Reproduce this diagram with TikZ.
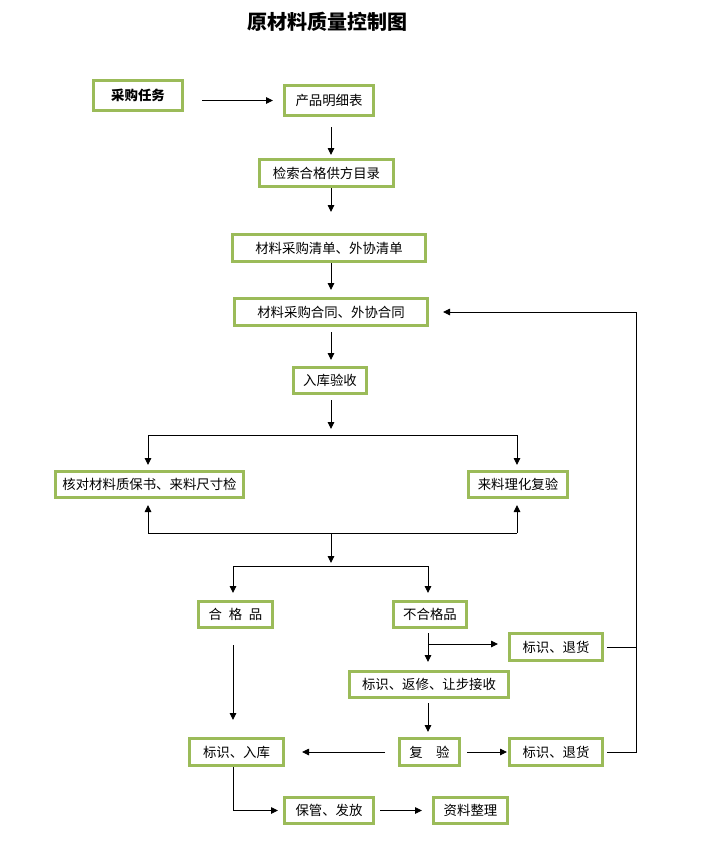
\documentclass[tikz,border=0pt]{standalone}
\usepackage{fontspec}
\setmainfont{Noto Sans CJK SC}
\usetikzlibrary{arrows.meta}
\definecolor{boxgreen}{HTML}{9BBB59}
\begin{document}
\begin{tikzpicture}[x=1pt,y=-1pt,
  gbox/.style={draw=boxgreen,line width=2.6pt,fill=white,inner sep=0pt,
    font=\fontsize{13.4}{16}\selectfont},
  arrw/.style={line width=0.9pt,-{Triangle[length=7pt,width=6.5pt]}},
  plain/.style={line width=0.9pt}]
\useasboundingbox[fill=white] (0,0) rectangle (716,862);

\node[font=\fontsize{20}{24}\selectfont\bfseries] (title) at (327.5,22) {原材料质量控制图};

\node[gbox,minimum width=89.4pt,minimum height=30.4pt,font=\fontsize{13.4}{16}\selectfont\bfseries] (cgrw) at (138,95.5) {采购任务};
\node[gbox,minimum width=89.4pt,minimum height=30.4pt] (cpmx) at (329,100.5) {产品明细表};
\node[gbox,minimum width=134.4pt,minimum height=27.4pt] (jsml) at (326.5,173) {检索合格供方目录};
\node[gbox,minimum width=193.4pt,minimum height=27.4pt] (qd) at (329,248) {材料采购清单、外协清单};
\node[gbox,minimum width=193.4pt,minimum height=27.4pt] (ht) at (331,312) {材料采购合同、外协合同};
\node[gbox,minimum width=73.4pt,minimum height=26.4pt] (rkys) at (330,380.5) {入库验收};
\node[gbox,minimum width=188.4pt,minimum height=26.4pt] (hd) at (149.5,484.5) {核对材料质保书、来料尺寸检};
\node[gbox,minimum width=99.4pt,minimum height=26.4pt] (llfy) at (518,484.5) {来料理化复验};
\node[gbox,minimum width=74.4pt,minimum height=26.4pt] (hgp) at (235.5,614.5) {合\hspace{0.5em}格\hspace{0.5em}品};
\node[gbox,minimum width=73.4pt,minimum height=26.4pt] (bhgp) at (430,614.5) {不合格品};
\node[gbox,minimum width=93.4pt,minimum height=27.4pt] (bstop) at (556,647) {标识、退货};
\node[gbox,minimum width=159.4pt,minimum height=26.4pt] (fx) at (429,684.5) {标识、返修、让步接收};
\node[gbox,minimum width=94.4pt,minimum height=27.4pt] (bsrk) at (236.5,752) {标识、入库};
\node[gbox,minimum width=60.4pt,minimum height=27.4pt] (fy) at (429.5,752) {复\hspace{1em}验};
\node[gbox,minimum width=93.4pt,minimum height=27.4pt] (bsbot) at (556,752) {标识、退货};
\node[gbox,minimum width=89.4pt,minimum height=26.4pt] (bgff) at (329,810.5) {保管、发放};
\node[gbox,minimum width=74.4pt,minimum height=26.4pt] (zlzl) at (470.5,810.5) {资料整理};

\coordinate (ax) at (331,0);
\coordinate (hx) at (148,0);
\coordinate (lx) at (517,0);
\coordinate (gx) at (233,0);
\coordinate (nx) at (428,0);
\coordinate (fb) at (636,0);
\coordinate (b1) at (331,435);
\coordinate (b2) at (331,533);
\coordinate (b3) at (331,566);
\coordinate (b4) at (428,644);

\draw[arrw,shorten <=18pt,shorten >=10pt] (cgrw.east |- cpmx.west) -- (cpmx.west);
\draw[arrw,shorten <=10pt,shorten >=3pt] (cpmx.south -| ax) -- (jsml.north -| ax);
\draw[arrw,shorten >=21pt] (jsml.south -| ax) -- (qd.north -| ax);
\draw[arrw,shorten >=7pt] (qd.south -| ax) -- (ht.north -| ax);
\draw[arrw,shorten <=5pt,shorten >=6pt] (ht.south -| ax) -- (rkys.north -| ax);
\draw[arrw,shorten <=5pt,shorten >=6pt] (rkys.south -| ax) -- (b1);

\draw[plain] (hx |- b1) -- (lx |- b1);
\draw[arrw,shorten >=5pt] (hx |- b1) -- (hx |- hd.north);
\draw[arrw,shorten >=5pt] (lx |- b1) -- (lx |- llfy.north);
\draw[plain] (hx |- b2) -- (lx |- b2);
\draw[arrw,shorten >=6pt] (hx |- b2) -- (hx |- hd.south);
\draw[arrw,shorten >=6pt] (lx |- b2) -- (lx |- llfy.south);
\draw[arrw,shorten >=3pt] (b2) -- (b3);

\draw[plain] (gx |- b3) -- (nx |- b3);
\draw[arrw,shorten >=7pt] (gx |- b3) -- (gx |- hgp.north);
\draw[arrw,shorten >=7pt] (nx |- b3) -- (nx |- bhgp.north);

\draw[arrw,shorten <=4pt,shorten >=8pt] (bhgp.south -| nx) -- (fx.north -| nx);
\draw[arrw,shorten >=10pt] (b4) -- (bstop.west |- b4);
\draw[plain,shorten <=3pt] (bstop.east) -- (fb |- bstop.east);
\draw[arrw,shorten <=3pt,shorten >=14pt] (bsbot.east) -- (fb |- bsbot.east) -- (fb |- ht.east) -- (ht.east);

\draw[arrw,shorten <=4pt,shorten >=5pt] (fx.south -| nx) -- (fy.north -| nx);
\draw[arrw,shorten <=16pt,shorten >=17pt] (hgp.south -| gx) -- (bsrk.north -| gx);
\draw[arrw,shorten <=13pt,shorten >=17pt] (fy.west) -- (bsrk.east);
\draw[arrw,shorten <=6pt,shorten >=1pt] (fy.east) -- (bsbot.west);
\draw[arrw,shorten >=5pt] (bsrk.south -| gx) |- (bgff.west);
\draw[arrw,shorten <=5pt,shorten >=10pt] (bgff.east) -- (zlzl.west);
\end{tikzpicture}
\end{document}
